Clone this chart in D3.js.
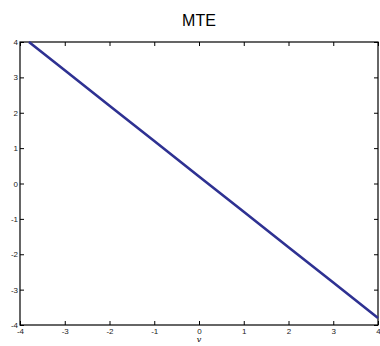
<!DOCTYPE html>
<html>
<head>
<meta charset="utf-8">
<script src="https://cdn.jsdelivr.net/npm/d3@7"></script>
<style>
  html, body { margin: 0; padding: 0; background: #fff; }
  svg { display: block; }
</style>
</head>
<body>
<svg id="chart" width="380" height="346"></svg>
<script>
// Marginal treatment effect as a function of v
const vValues = [-3.8, -3, -2, -1, 0, 1, 2, 3, 4];
const mteValues = [4.0, 3.2, 2.2, 1.2, 0.2, -0.8, -1.8, -2.8, -3.8];
const xTicks = [-4, -3, -2, -1, 0, 1, 2, 3, 4];
const yTicks = [-4, -3, -2, -1, 0, 1, 2, 3, 4];

const svg = d3.select("#chart");
const plotLeft = 20, plotRight = 378, plotTop = 42, plotBottom = 325;

const x = d3.scaleLinear().domain([-4, 4]).range([plotLeft, plotRight]);
const y = d3.scaleLinear().domain([-4, 4]).range([plotBottom, plotTop]);

const tickLen = 4;
const font = "'Liberation Sans', Arial, sans-serif";
const fmt = d => String(d);

// Frame
svg.append("rect")
  .attr("x", plotLeft).attr("y", plotTop)
  .attr("width", plotRight - plotLeft).attr("height", plotBottom - plotTop)
  .attr("fill", "none").attr("stroke", "#000").attr("stroke-width", 1.2);

// Axes with inward ticks
const styleAxis = g => {
  g.select(".domain").remove();
  g.selectAll(".tick line").attr("stroke", "#000");
  g.selectAll(".tick text").attr("font-family", font).attr("font-size", 8).attr("fill", "#222");
};

svg.append("g").attr("transform", `translate(0,${plotBottom})`)
  .call(d3.axisBottom(x).tickValues(xTicks).tickFormat(fmt)
        .tickSizeInner(-tickLen).tickSizeOuter(0).tickPadding(3))
  .call(styleAxis);

svg.append("g").attr("transform", `translate(${plotLeft},0)`)
  .call(d3.axisLeft(y).tickValues(yTicks).tickFormat(fmt)
        .tickSizeInner(-tickLen).tickSizeOuter(0).tickPadding(2))
  .call(styleAxis);

svg.append("g").attr("transform", `translate(0,${plotTop})`)
  .call(d3.axisTop(x).tickValues(xTicks).tickFormat("")
        .tickSizeInner(-tickLen).tickSizeOuter(0))
  .call(styleAxis);

svg.append("g").attr("transform", `translate(${plotRight},0)`)
  .call(d3.axisRight(y).tickValues(yTicks).tickFormat("")
        .tickSizeInner(-tickLen).tickSizeOuter(0))
  .call(styleAxis);

// Curve
const line = d3.line().x((d, i) => x(vValues[i])).y(d => y(d));
svg.append("path")
  .datum(mteValues)
  .attr("d", line)
  .attr("fill", "none")
  .attr("stroke", "#2e3192")
  .attr("stroke-width", 2.6);

// Title and axis label
svg.append("text")
  .attr("x", (plotLeft + plotRight) / 2).attr("y", 26)
  .attr("text-anchor", "middle")
  .attr("font-family", font).attr("font-size", 16)
  .text("MTE");

svg.append("text")
  .attr("x", x(0)).attr("y", 342)
  .attr("text-anchor", "middle")
  .attr("font-family", "'DejaVu Serif', 'Liberation Serif', serif")
  .attr("font-style", "italic").attr("font-size", 8)
  .text("v");
</script>
</body>
</html>
